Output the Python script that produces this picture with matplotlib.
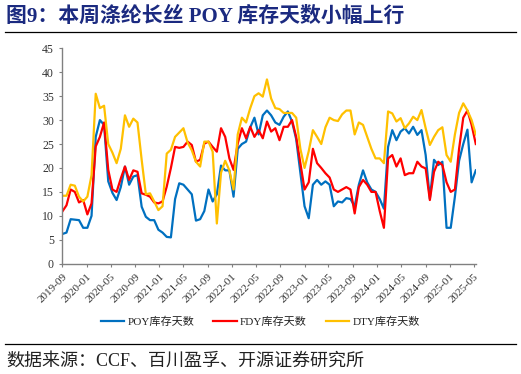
import matplotlib
matplotlib.use("Agg")
import matplotlib.pyplot as plt
import matplotlib.dates as mdates
from matplotlib.lines import Line2D
import pandas as pd

# values, one every 3 weeks from 2019-09
dates = pd.date_range("2019-09-01", periods=100, freq="21D")

poy = [6.2, 6.5, 9.3, 9.2, 9.1, 7.5, 7.5, 10.0, 26.5, 30.0,
       29.0, 17.2, 14.8, 13.3, 16.0, 20.3, 16.5, 18.2, 18.5, 11.9,
       9.8, 9.1, 9.1, 7.1, 6.5, 5.6, 5.5, 13.5, 16.8, 16.5,
       15.5, 14.5, 9.0, 9.3, 11.0, 15.5, 13.0, 14.5, 20.5, 19.5,
       19.5, 14.0, 24.0, 25.0, 25.5, 28.5, 30.5, 27.0, 31.0, 32.0,
       31.0, 29.5, 29.0, 30.7, 31.8, 29.7, 26.0, 19.0, 12.0, 9.5,
       16.5, 17.5, 16.5, 17.2, 16.5, 12.0, 13.0, 12.8, 13.7, 13.5,
       12.0, 16.5, 19.5, 17.0, 15.5, 15.0, 13.5, 11.5, 24.4, 27.9,
       25.8, 27.6, 28.3, 27.2, 28.6, 26.9, 27.9, 22.7, 13.6, 21.7,
       20.6, 21.3, 7.5, 7.5, 14.0, 21.5, 25.0, 28.0, 17.0, 19.5]

fdy = [10.9, 12.2, 15.5, 15.0, 12.8, 13.3, 10.3, 12.6, 24.5, 26.5,
       29.5, 19.6, 15.5, 15.0, 17.8, 20.3, 17.5, 19.5, 19.2, 14.7,
       14.4, 14.0, 12.8, 12.6, 13.0, 16.1, 20.0, 24.4, 24.2, 24.4,
       25.5, 24.8, 21.3, 21.7, 25.1, 25.5, 24.4, 23.4, 28.3, 26.5,
       22.0, 19.6, 25.1, 28.3, 26.2, 28.6, 26.5, 27.9, 26.2, 29.7,
       27.6, 28.3, 25.8, 28.6, 28.6, 30.0, 26.5, 21.0, 15.5, 17.0,
       24.0, 21.0, 20.0, 18.9, 18.0, 15.5, 15.0, 15.5, 16.0, 15.5,
       10.5, 16.0, 17.5, 16.5, 15.0, 15.0, 11.0, 7.5, 22.0, 22.7,
       20.3, 22.0, 18.5, 18.9, 18.9, 21.3, 20.3, 19.9, 13.3, 19.2,
       21.3, 20.6, 17.0, 15.0, 15.5, 24.0, 30.5, 32.0, 29.0, 25.0]

dty = [14.2, 14.2, 16.5, 16.3, 14.0, 13.0, 14.0, 18.5, 35.5, 32.5,
       33.0, 25.0, 23.2, 21.0, 24.0, 31.0, 28.6, 30.3, 29.5, 21.7,
       14.5, 14.7, 13.0, 11.2, 12.0, 23.0, 23.8, 26.5, 27.4, 28.3,
       25.3, 23.7, 21.3, 20.3, 25.5, 25.5, 23.4, 8.4, 19.0, 21.5,
       19.5, 15.5, 27.0, 30.5, 29.5, 32.5, 35.0, 35.6, 34.9, 38.5,
       34.5, 32.5, 32.3, 31.5, 31.5, 31.5, 30.5, 24.0, 20.0, 23.5,
       27.9, 26.5, 25.0, 28.5, 30.5, 30.0, 29.8, 31.2, 32.0, 32.0,
       27.0, 29.5, 29.0, 26.5, 24.0, 22.0, 22.0, 21.0, 31.8, 31.4,
       29.7, 30.4, 28.3, 29.3, 30.7, 30.0, 32.1, 28.3, 24.8, 26.5,
       27.9, 28.5, 22.7, 21.3, 27.0, 31.5, 33.5, 32.0, 30.0, 27.0]

series_names = ["POY库存天数", "FDY库存天数", "DTY库存天数"]
colors = ["#0070C0", "#FF0000", "#FFC000"]
tick_dates = pd.date_range("2019-09-01", "2025-05-01", freq="4MS")

title = "图9：本周涤纶长丝 POY 库存天数小幅上行"
source = "数据来源：CCF、百川盈孚、开源证券研究所"

serif_cjk = ["Liberation Serif", "Noto Sans CJK SC"]

fig = plt.figure(figsize=(5.21, 3.74), dpi=100)
ax = fig.add_axes([0.1196, 0.2949, 0.794, 0.576])

for vals, name, c in zip([poy, fdy, dty], series_names, colors):
    ax.plot(dates, vals, color=c, lw=1.6, label=name)

ax.set_ylim(0, 45)
ax.set_yticks(range(0, 46, 5))
ax.set_xlim(pd.Timestamp("2019-09-01"), pd.Timestamp("2025-05-12"))
ax.set_xticks(tick_dates)
ax.xaxis.set_major_formatter(mdates.DateFormatter("%Y-%m"))

for s in ["top", "right"]:
    ax.spines[s].set_visible(False)
for s in ["left", "bottom"]:
    ax.spines[s].set_color("#808080")
    ax.spines[s].set_linewidth(1.0)

ax.tick_params(axis="both", direction="out", length=2.5, width=0.8,
               color="#808080", labelcolor="#333333")
for lab in ax.get_yticklabels():
    lab.set_family("Liberation Serif")
    lab.set_fontsize(8.5)
for lab in ax.get_xticklabels():
    lab.set_family("Liberation Serif")
    lab.set_fontsize(8)
    lab.set_rotation(45)
    lab.set_ha("right")
    lab.set_va("top")
    lab.set_rotation_mode("anchor")

leg = fig.legend(loc="center", bbox_to_anchor=(0.5, 0.139), ncol=3,
                 frameon=False, handlelength=2.1, handletextpad=0.3,
                 columnspacing=1.7, prop={"family": serif_cjk, "size": 8})
for t in leg.get_texts():
    t.set_color("#222222")

fig.text(0.012, 0.955, title, ha="left", va="center", fontsize=15,
         fontweight="bold", color="#1B2A80", family=serif_cjk)
fig.add_artist(Line2D([0.01, 0.99], [0.915, 0.915], color="black", lw=0.9))
fig.add_artist(Line2D([0.01, 0.99], [0.079, 0.079], color="black", lw=0.9))
fig.text(0.012, 0.035, source, ha="left", va="center", fontsize=13,
         color="#222222", family=serif_cjk)

fig.savefig("out.png", dpi=100)
